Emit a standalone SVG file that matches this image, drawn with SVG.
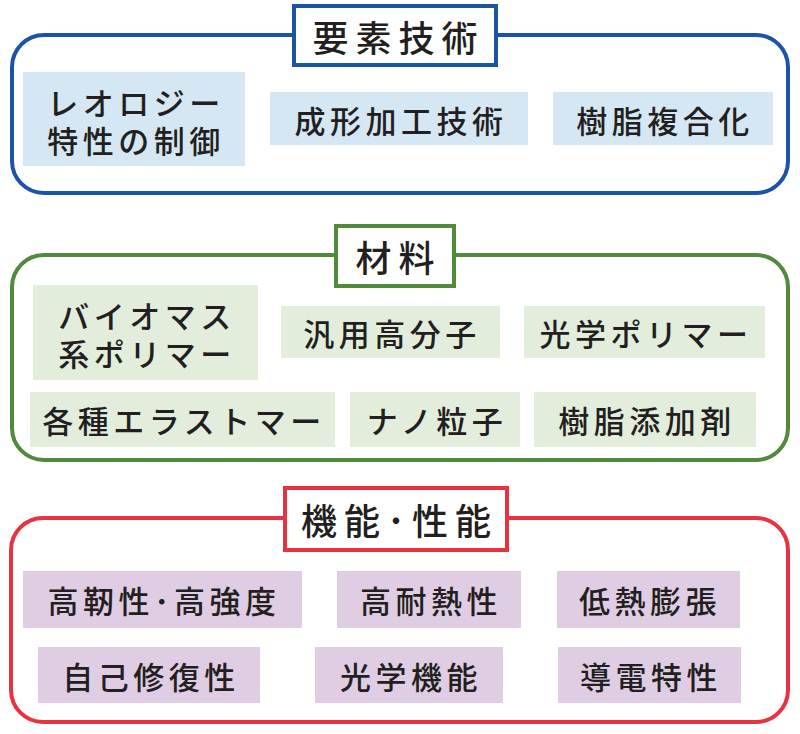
<svg xmlns="http://www.w3.org/2000/svg" width="800" height="734" viewBox="0 0 800 734">
<style>
text{font-family:"Noto Sans CJK JP","Noto Sans CJK SC",sans-serif;font-weight:500;fill:#231f20;text-anchor:middle;dominant-baseline:central}
.it{font-size:31px;letter-spacing:4.5px}
.tt{font-size:36px;letter-spacing:7px}
.frame{fill:#fff;stroke-width:4}
.tb{fill:#fff;stroke-width:4}
.b{fill:#d4e7f3}.g{fill:#e2eedb}.p{fill:#dfcde3}
.blue{stroke:#1c54a5}.green{stroke:#4f8b3b}.red{stroke:#e8323f}
</style>
<g id="connectors"/>
<g id="sec-yoso">
<rect class="frame blue" x="12" y="35" width="776" height="158" rx="32"/>
<rect class="tb blue" x="294" y="6" width="202" height="59"/>
<text class="tt" x="398.5" y="36">要素技術</text>
</g>
<g id="n-rheology"><rect class="b" x="23" y="72" width="222" height="94"/><text class="it" x="136" y="101">レオロジー</text><text class="it" x="136" y="139">特性の制御</text></g>
<g id="n-seikei"><rect class="b" x="270" y="92" width="258" height="53"/><text class="it" x="401" y="119">成形加工技術</text></g>
<g id="n-fukugo"><rect class="b" x="553" y="92" width="220" height="53"/><text class="it" x="665" y="119">樹脂複合化</text></g>

<g id="sec-zairyo">
<rect class="frame green" x="12" y="255" width="776" height="205" rx="32"/>
<rect class="tb green" x="336" y="226" width="118" height="60"/>
<text class="tt" x="398.5" y="256">材料</text>
</g>
<g id="n-biomass"><rect class="g" x="33" y="285" width="225" height="95"/><text class="it" x="147" y="314">バイオマス</text><text class="it" x="147" y="352">系ポリマー</text></g>
<g id="n-hanyo"><rect class="g" x="281" y="306" width="219" height="52"/><text class="it" x="392" y="332">汎用高分子</text></g>
<g id="n-kogaku-p"><rect class="g" x="524" y="306" width="241" height="52"/><text class="it" x="646" y="332">光学ポリマー</text></g>
<g id="n-elastomer"><rect class="g" x="30" y="392" width="305" height="55"/><text class="it" x="184" y="419">各種エラストマー</text></g>
<g id="n-nano"><rect class="g" x="350" y="392" width="170" height="55"/><text class="it" x="437" y="419">ナノ粒子</text></g>
<g id="n-tenka"><rect class="g" x="534" y="392" width="222" height="55"/><text class="it" x="647" y="419">樹脂添加剤</text></g>

<g id="sec-kino">
<rect class="frame red" x="11" y="518" width="777" height="204" rx="32"/>
<rect class="tb red" x="285" y="488" width="222" height="62"/>
<text class="tt" x="399.5" y="519">機能･性能</text>
</g>
<g id="n-kyojin"><rect class="p" x="23" y="571" width="279" height="57"/><text class="it" x="164" y="599">高靭性･高強度</text></g>
<g id="n-tainetsu"><rect class="p" x="337" y="571" width="184" height="57"/><text class="it" x="431" y="599">高耐熱性</text></g>
<g id="n-teinetsu"><rect class="p" x="557" y="571" width="183" height="57"/><text class="it" x="650" y="599">低熱膨張</text></g>
<g id="n-jiko"><rect class="p" x="38" y="647" width="222" height="56"/><text class="it" x="151" y="675">自己修復性</text></g>
<g id="n-kogaku-k"><rect class="p" x="315" y="647" width="188" height="56"/><text class="it" x="411" y="675">光学機能</text></g>
<g id="n-doden"><rect class="p" x="558" y="647" width="183" height="56"/><text class="it" x="651" y="675">導電特性</text></g>
</svg>
